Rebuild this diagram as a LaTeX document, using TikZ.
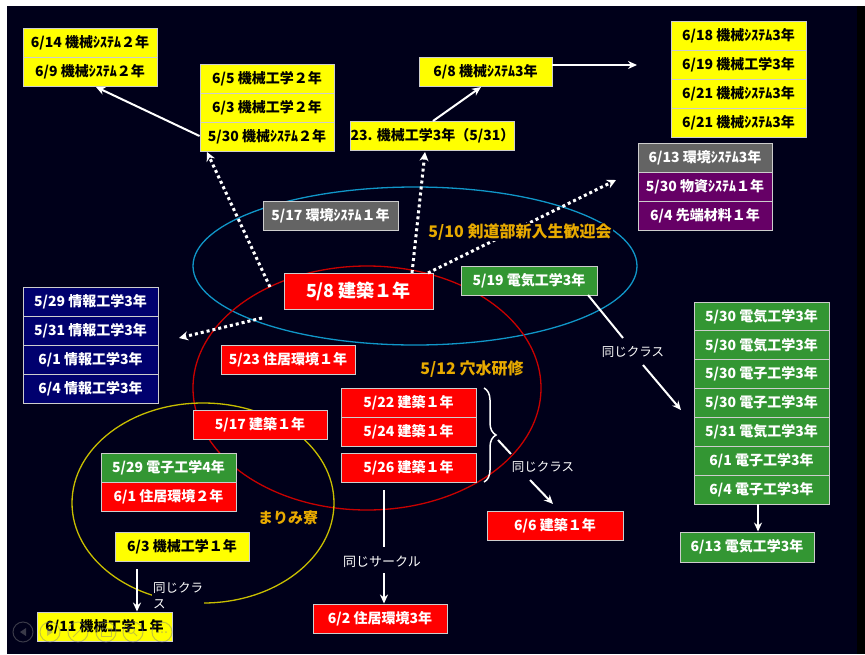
\documentclass[tikz,border=0pt]{standalone}
\usepackage{fontspec}
\setmainfont{Noto Sans CJK JP}
\usetikzlibrary{arrows.meta,decorations.pathreplacing}
\definecolor{bg}{RGB}{0,0,26}
\definecolor{ylw}{RGB}{255,255,0}
\definecolor{rd}{RGB}{255,0,0}
\definecolor{grn}{RGB}{51,150,51}
\definecolor{nvy}{RGB}{0,0,110}
\definecolor{gry}{RGB}{100,100,100}
\definecolor{prp}{RGB}{102,0,102}
\definecolor{orng}{RGB}{232,170,0}
\definecolor{ellb}{RGB}{16,150,200}
\definecolor{ellr}{RGB}{200,0,0}
\definecolor{elly}{RGB}{200,190,0}
\definecolor{cellline}{RGB}{205,205,205}
\tikzset{
  cell/.style={draw=cellline, line width=0.9pt, inner sep=0pt, minimum height=29pt, minimum width=134pt,
    font=\bfseries\fontsize{14}{16}\selectfont},
  yc/.style={cell, fill=ylw, text=black},
  rc/.style={cell, fill=rd, text=white},
  gc/.style={cell, fill=grn, text=white},
  nc/.style={cell, fill=nvy, text=white},
  grc/.style={cell, fill=gry, text=white},
  pc/.style={cell, fill=prp, text=white},
  ell/.style={line width=1.3pt},
  grouplabel/.style={text=orng, fill=bg, inner sep=1pt, font=\bfseries\fontsize{16}{18}\selectfont},
  smalllabel/.style={text=white, fill=bg, inner sep=1pt, font=\fontsize{12.5}{15}\selectfont},
  dotarrow/.style={draw=white, line width=3pt, dash pattern=on 3pt off 3pt, -{Stealth[length=9pt,width=9pt]}},
  solidarrow/.style={draw=white, line width=2pt, -{Stealth[length=9pt,width=8pt]}},
  solidline/.style={draw=white, line width=2pt},
  ctrl/.style={draw=gray, line width=1pt, opacity=0.45}
}
\begin{document}
\begin{tikzpicture}[x=1pt,y=-1pt]
\useasboundingbox (0,0) rectangle (865,654);
\fill[white] (0,0) rectangle (865,654);
\fill[bg] (7,6) rectangle (857,654);
\fill[black] (857,6) rectangle (865,654);

% ellipses
\draw[ell, draw=ellb] (415,266) ellipse [x radius=222, y radius=79];
\draw[ell, draw=ellr] (367,388) ellipse [x radius=174, y radius=122];
\draw[ell, draw=elly] (203,503) ellipse [x radius=131, y radius=100];

% group labels
\node[grouplabel] (kendo) at (520,232) {5/10 剣道部新入生歓迎会};
\node[grouplabel] (anamizu) at (472,369) {5/12 穴水研修};
\node[grouplabel, font=\bfseries\fontsize{15}{18}\selectfont] (ryo) at (288,518) {まりみ寮};

% yellow boxes
\node[yc] (a1) at (90,42.5) {6/14 機械ｼｽﾃﾑ２年};
\node[yc] (a2) at (90,71.5) {6/9 機械ｼｽﾃﾑ２年};
\node[yc] (b1) at (267,78.5) {6/5 機械工学２年};
\node[yc] (b2) at (267,107.5) {6/3 機械工学２年};
\node[yc] (b3) at (267,136.5) {5/30 機械ｼｽﾃﾑ２年};
\node[yc, minimum width=133pt] (c) at (485.5,71.5) {6/8 機械ｼｽﾃﾑ3年};
\node[yc, minimum width=155pt] (d) at (432.5,135.5) {23. 機械工学3年（5/31）};
\node[yc, minimum width=135pt] (e1) at (738.5,35.5) {6/18 機械ｼｽﾃﾑ3年};
\node[yc, minimum width=135pt] (e2) at (738.5,64.5) {6/19 機械工学3年};
\node[yc, minimum width=135pt] (e3) at (738.5,93.5) {6/21 機械ｼｽﾃﾑ3年};
\node[yc, minimum width=135pt] (e4) at (738.5,122.5) {6/21 機械ｼｽﾃﾑ3年};
\node[yc] (f) at (182,546.5) {6/3 機械工学１年};
\node[yc, minimum width=135pt] (g) at (104.5,626.5) {6/11 機械工学１年};

% gray / purple
\node[grc] (h1) at (705,157.5) {6/13 環境ｼｽﾃﾑ3年};
\node[pc] (h2) at (705,186.5) {5/30 物資ｼｽﾃﾑ１年};
\node[pc] (h3) at (705,215.5) {6/4 先端材料１年};
\node[grc, minimum width=135pt] (i) at (330.5,215.5) {5/17 環境ｼｽﾃﾑ１年};

% red
\node[rc, minimum width=149pt, minimum height=36pt, font=\bfseries\fontsize{18}{20}\selectfont] (m) at (358.5,291) {5/8 建築１年};
\node[rc] (r1) at (288,359.5) {5/23 住居環境１年};
\node[rc] (r2) at (260,424.5) {5/17 建築１年};
\node[rc, minimum width=135pt] (r3) at (408.5,402.5) {5/22 建築１年};
\node[rc, minimum width=135pt] (r4) at (408.5,431.5) {5/24 建築１年};
\node[rc, minimum width=135pt] (r5) at (408.5,467.5) {5/26 建築１年};
\node[rc, minimum width=136pt] (r6) at (555,525.5) {6/6 建築１年};
\node[gc, minimum width=135pt] (v) at (168.5,467.5) {5/29 電子工学4年};
\node[rc, minimum width=135pt] (r7) at (168.5,496.5) {6/1 住居環境２年};
\node[rc] (r8) at (380,618.5) {6/2 住居環境3年};

% green
\node[gc, minimum width=136pt] (s) at (529,280.5) {5/19 電気工学3年};
\node[gc, minimum width=135pt, minimum height=28.86pt] (t1) at (761.5,316.4) {5/30 電気工学3年};
\node[gc, minimum width=135pt, minimum height=28.86pt] (t2) at (761.5,345.3) {5/30 電気工学3年};
\node[gc, minimum width=135pt, minimum height=28.86pt] (t3) at (761.5,374.1) {5/30 電子工学3年};
\node[gc, minimum width=135pt, minimum height=28.86pt] (t4) at (761.5,403.0) {5/30 電子工学3年};
\node[gc, minimum width=135pt, minimum height=28.86pt] (t5) at (761.5,431.9) {5/31 電気工学3年};
\node[gc, minimum width=135pt, minimum height=28.86pt] (t6) at (761.5,460.7) {6/1 電子工学3年};
\node[gc, minimum width=135pt, minimum height=28.86pt] (t7) at (761.5,489.6) {6/4 電子工学3年};
\node[gc, minimum height=30pt] (u) at (747,547) {6/13 電気工学3年};

% navy
\node[nc, minimum width=135pt] (n1) at (90.5,301.5) {5/29 情報工学3年};
\node[nc, minimum width=135pt] (n2) at (90.5,330.5) {5/31 情報工学3年};
\node[nc, minimum width=135pt] (n3) at (90.5,359.5) {6/1 情報工学3年};
\node[nc, minimum width=135pt] (n4) at (90.5,388.5) {6/4 情報工学3年};

% small labels
\node[smalllabel] (lab1) at (633,352) {同じクラス};
\node[smalllabel] (lab2) at (543,467) {同じクラス};
\node[smalllabel, font=\fontsize{13}{15}\selectfont] (lab3) at (382,562) {同じサークル};
\node[smalllabel, align=left, anchor=north west, font=\fontsize{12.5}{16}\selectfont] (lab4) at (152,581) {同じクラ\\ス};

% coordinates for connector ends
\coordinate (d1s) at (270,287);
\coordinate (d1e) at (207,152);
\coordinate (d2s) at (412,273);
\coordinate (d2e) at (425,152);
\coordinate (d3s) at (428,273);
\coordinate (d3e) at (616,180);
\coordinate (d4s) at (262,318);
\coordinate (d4e) at (179,338);
\coordinate (s1e) at (96,87);
\coordinate (s2s) at (433,121);
\coordinate (s2e) at (481,87);
\coordinate (s3s) at (552,65);
\coordinate (s3e) at (637,65);
\coordinate (g1s) at (588,295);
\coordinate (g1m) at (623,338);
\coordinate (g1a) at (643,365);
\coordinate (g1e) at (681,410);
\coordinate (bt) at (498,440);
\coordinate (bm) at (511,454);
\coordinate (ba) at (530,480);
\coordinate (be) at (553,504);
\coordinate (cs) at (384,490);
\coordinate (cm) at (384,547);
\coordinate (ca) at (384,573);
\coordinate (fs) at (137,569);

% dotted arrows from 5/8
\draw[dotarrow] (d1s) -- (d1e);
\draw[dotarrow] (d2s) -- (d2e);
\draw[dotarrow] (d3s) -- (d3e);
\draw[dotarrow] (d4s) -- (d4e);
% redraw label over dotted line
\node[grouplabel] at (kendo) {5/10 剣道部新入生歓迎会};

% solid arrows
\draw[solidarrow] (b3.west) ++(0,-0.5) -- (s1e);
\draw[solidarrow] (s2s) -- (s2e);
\draw[solidarrow] (s3s) -- (s3e);
\draw[solidline] (g1s) -- (g1m);
\draw[solidarrow] (g1a) -- (g1e);
\draw[solidarrow] (t7.south -| 758,0) -- (u.north -| 758,0);
\draw[white, line width=1.5pt, decorate, decoration={brace, amplitude=12pt}] (484,388) -- (484,482);
\draw[solidline] (bt) -- (bm);
\draw[solidarrow] (ba) -- (be);
\draw[solidline] (cs) -- (cm);
\draw[solidarrow] (ca) -- (r8.north -| ca);
\draw[solidarrow] (fs) -- (g.north -| fs);

% slide show controls
\foreach \cx in {23,50,78,106,133,162} {\draw[ctrl] (\cx,632) circle [radius=10];}
\fill[gray, opacity=0.45] (20,632) -- (26,628) -- (26,636) -- cycle;
\fill[gray, opacity=0.45] (53,632) -- (47,628) -- (47,636) -- cycle;
\draw[ctrl] (73,637) -- (83,627);
\draw[ctrl] (101,628) rectangle (111,636);
\draw[ctrl] (131,630) circle [radius=3.5] (133.5,632.5) -- (137,636);
\fill[gray, opacity=0.45] (158,632) circle [radius=1] (162,632) circle [radius=1] (166,632) circle [radius=1];
\end{tikzpicture}
\end{document}
